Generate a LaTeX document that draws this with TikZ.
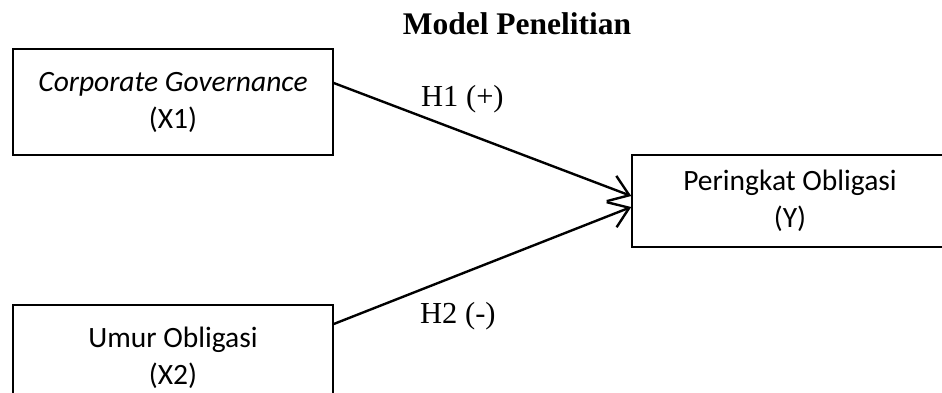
\documentclass[tikz,border=0pt]{standalone}
\usepackage{fontspec}
\setmainfont{Liberation Serif}
\newfontfamily\boxfont{Carlito}
\usetikzlibrary{arrows.meta}
\begin{document}
\begin{tikzpicture}[x=1pt,y=-1pt,
  varbox/.style={draw, line width=1.5pt, inner sep=0pt, align=center,
    font=\boxfont\fontsize{29.5}{37}\selectfont},
  link/.style={line width=2.4pt, -{Straight Barb[length=19pt,width=27pt,line width=2.4pt]}},
  hyp/.style={font=\fontsize{30.5}{36}\selectfont, anchor=base west, inner sep=0pt}]
\useasboundingbox (0,0) rectangle (942,393);
\clip (0,0) rectangle (942,393);

% title
\node[font=\bfseries\fontsize{31.5}{37}\selectfont, anchor=base, inner sep=0pt] (title) at (517,35) {Model Penelitian};

% variables
\node[varbox, minimum width=320pt, minimum height=106pt] (x1) at (173,102)
  {\textit{Corporate Governance}\\(X1)};
\node[varbox, minimum width=320pt, minimum height=106pt] (x2) at (173,358)
  {Umur Obligasi\\(X2)};
\node[varbox, minimum width=316pt, minimum height=92pt] (y) at (790,201)
  {Peringkat Obligasi\\(Y)};

% hypotheses
\draw[link] ([yshift=19pt]x1.east) -- ([yshift=5pt]y.west);
\draw[link] ([yshift=34pt]x2.east) -- ([yshift=-6pt]y.west);
\node[hyp] (h1) at (421,107) {H1 (+)};
\node[hyp] (h2) at (420,323) {H2 (-)};
\end{tikzpicture}
\end{document}
